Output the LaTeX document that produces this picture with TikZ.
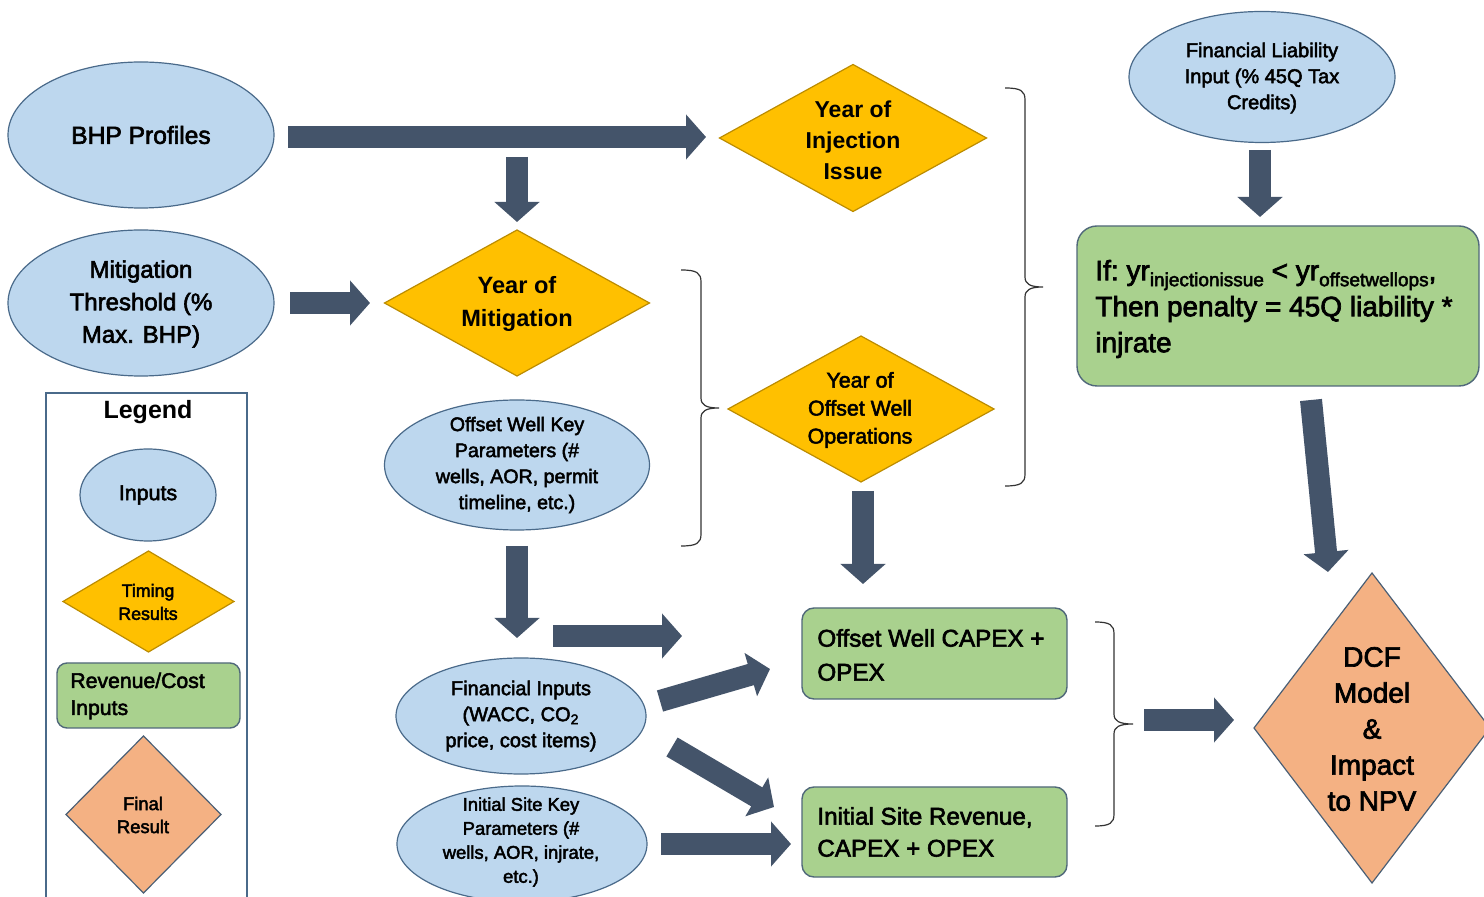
\documentclass[tikz,border=0pt]{standalone}
\usepackage{fontspec}
\setmainfont{Liberation Sans}
\newfontfamily\mf{Liberation Sans}[FakeBold=2.5]
\usetikzlibrary{shapes.geometric,arrows.meta}
\definecolor{inblue}{HTML}{BDD7EE}
\definecolor{inbd}{HTML}{4A6A8A}
\definecolor{ylw}{HTML}{FFC000}
\definecolor{ylbd}{HTML}{BC8C00}
\definecolor{grn}{HTML}{A9D18E}
\definecolor{grbd}{HTML}{50687A}
\definecolor{org}{HTML}{F4B183}
\definecolor{orbd}{HTML}{4A5F75}
\definecolor{arr}{HTML}{44546A}
\definecolor{brcol}{HTML}{333333}
\newcommand\mybrace[6]{%
  \draw[brc] (#1,#4) .. controls ({#2-4},#4) and (#2,{#4+3}) .. (#2,{#4+12})
    -- (#2,{#5-10}) .. controls (#2,{#5-3}) and ({#2+5},#5) .. (#3,#5)
    .. controls ({#2+5},#5) and (#2,{#5+3}) .. (#2,{#5+10})
    -- (#2,{#6-12}) .. controls (#2,{#6-3}) and ({#2-4},#6) .. (#1,#6);}
\begin{document}
\begin{tikzpicture}[x=0.5pt,y=-0.5pt,
  inp/.style={ellipse, draw=inbd, fill=inblue, line width=0.6pt, inner sep=0pt, outer sep=0pt},
  tim/.style={diamond, draw=ylbd, fill=ylw, line width=0.6pt, inner sep=0pt, outer sep=0pt},
  rev/.style={rectangle, rounded corners=6pt, draw=grbd, fill=grn, line width=0.7pt, inner sep=0pt, outer sep=0pt},
  fin/.style={diamond, draw=orbd, fill=org, line width=0.6pt, inner sep=0pt, outer sep=0pt},
  txt/.style={align=center, inner sep=0pt, text=black},
  ltxt/.style={align=left, inner sep=0pt, text=black},
  blk/.style={line width=11pt, draw=arr, -{Triangle[length=10pt,width=22pt]}},
  brc/.style={draw=brcol, line width=0.6pt}]
\clip (0,0) rectangle (1484,897);
\fill[white] (0,0) rectangle (1484,897);

% ---------------- shapes ----------------
\node[inp, minimum width=133pt, minimum height=73pt] (bhp) at (141,135) {};
\node[txt, font=\mf\fontsize{12.3}{15}\selectfont] (bhpt) at (141,135) {BHP Profiles};

\node[inp, minimum width=133pt, minimum height=73pt] (mth) at (141,303) {};
\node[txt, font=\mf\fontsize{12}{16.25}\selectfont] (mtht) at (141,304) {Mitigation\\Threshold (\%\\Max. BHP)};

\node[tim, minimum width=132.5pt, minimum height=73pt] (yom) at (517,303) {};
\node[txt, font=\bfseries\fontsize{11.8}{16.5}\selectfont] (yomt) at (517,304) {Year of\\Mitigation};

\node[tim, minimum width=133.5pt, minimum height=73.5pt] (yoi) at (853,138) {};
\node[txt, font=\bfseries\fontsize{11.5}{15.5}\selectfont] (yoit) at (853,140) {Year of\\Injection\\Issue};

\node[tim, minimum width=133pt, minimum height=73pt] (yoo) at (861,409) {};
\node[txt, font=\mf\fontsize{10.7}{14}\selectfont] (yoot) at (860,410) {Year of\\Offset Well\\Operations};

\node[inp, minimum width=132.5pt, minimum height=65pt] (okp) at (517,465) {};
\node[txt, font=\mf\fontsize{9.8}{13}\selectfont] (okpt) at (517,465) {Offset Well Key\\Parameters (\#\\wells, AOR, permit\\timeline, etc.)};

\node[inp, minimum width=125pt, minimum height=58pt] (fi) at (521,716) {};
\node[txt, font=\mf\fontsize{10}{13}\selectfont] (fit) at (521,716) {Financial Inputs\\(WACC, CO\textsubscript{2}\\price, cost items)};

\node[inp, minimum width=125pt, minimum height=58pt] (isk) at (522,844) {};
\node[txt, font=\mf\fontsize{9.2}{12}\selectfont] (iskt) at (521,842) {Initial Site Key\\Parameters (\#\\wells, AOR, injrate,\\etc.)};

\node[inp, minimum width=133pt, minimum height=65.5pt] (fli) at (1262,77) {};
\node[txt, font=\mf\fontsize{10}{13}\selectfont] (flit) at (1262,78) {Financial Liability\\Input (\% 45Q Tax\\Credits)};

\node[rev, rounded corners=10pt, minimum width=201pt, minimum height=80pt] (ifb) at (1278,306) {};
\node[ltxt, anchor=west, font=\mf\fontsize{14}{18}\selectfont] (ifbt) at (1095,309)
  {If:~yr\raisebox{-3pt}{\fontsize{9.5}{10}\selectfont injectionissue} {\textless} yr\raisebox{-3pt}{\fontsize{9.5}{10}\selectfont offsetwellops},\\Then penalty = 45Q liability *\\injrate};

\node[rev, minimum width=132.5pt, minimum height=45.5pt] (owc) at (934.5,653.5) {};
\node[ltxt, anchor=west, font=\mf\fontsize{12.1}{17}\selectfont] (owct) at (817,655) {Offset Well CAPEX +\\OPEX};

\node[rev, minimum width=132.5pt, minimum height=45pt] (isr) at (934.5,832) {};
\node[ltxt, anchor=west, font=\mf\fontsize{12.1}{16}\selectfont] (isrt) at (817,832) {Initial Site Revenue,\\CAPEX + OPEX};

\node[fin, minimum width=118pt, minimum height=155pt] (dcf) at (1372,728) {};
\node[txt, font=\mf\fontsize{14}{18}\selectfont] (dcft) at (1372,729) {DCF\\Model\\\&\\Impact\\to NPV};

% ---------------- legend ----------------
\node[draw=inbd, line width=0.6pt, rectangle, minimum width=100.5pt, minimum height=262pt, inner sep=0pt, outer sep=0pt] (leg) at (146.5,655) {};
\node[txt, font=\bfseries\fontsize{12.5}{15}\selectfont] (legt) at (148,412) {Legend};
\node[inp, minimum width=68pt, minimum height=46pt] (lin) at (148,495) {};
\node[txt, font=\mf\fontsize{10.7}{13}\selectfont] (lint) at (148,495) {Inputs};
\node[tim, minimum width=85.5pt, minimum height=50.5pt] (ltim) at (148.5,601.5) {};
\node[txt, font=\mf\fontsize{8.9}{11.5}\selectfont] (ltimt) at (148,602) {Timing\\Results};
\node[rev, rounded corners=5pt, minimum width=91.5pt, minimum height=32.5pt] (lrev) at (148.5,695.5) {};
\node[ltxt, anchor=west, font=\mf\fontsize{10.6}{13.5}\selectfont] (lrevt) at (70,696) {Revenue/Cost\\Inputs};
\node[fin, minimum width=77.5pt, minimum height=78.5pt] (lfin) at (143.5,814.5) {};
\node[txt, font=\mf\fontsize{9.2}{11.5}\selectfont] (lfint) at (143,815) {Final\\Result};

% ---------------- braces ----------------
\mybrace{681}{701}{719}{270}{408}{546}
\mybrace{1005}{1025}{1043}{88}{287}{486}
\mybrace{1095}{1114}{1133}{622}{724}{826}

% ---------------- arrows ----------------
\coordinate (a1s) at (288,137);  \coordinate (a1e) at (706,137);
\coordinate (a2s) at (517,157);  \coordinate (a2e) at (517,222);
\coordinate (a3s) at (290,303);  \coordinate (a3e) at (370,303);
\coordinate (a4s) at (517,546);  \coordinate (a4e) at (517,638);
\coordinate (a5s) at (553,636);  \coordinate (a5e) at (682,636);
\coordinate (a6s) at (660,701);  \coordinate (a6e) at (770,669);
\coordinate (a7s) at (672,747);  \coordinate (a7e) at (774,807);
\coordinate (a8s) at (661,844);  \coordinate (a8e) at (791,844);
\coordinate (a9s) at (863,491);  \coordinate (a9e) at (863,584);
\coordinate (a10s) at (1260,150); \coordinate (a10e) at (1260,217);
\coordinate (a11s) at (1311,400); \coordinate (a11e) at (1328,572);
\coordinate (a12s) at (1144,720); \coordinate (a12e) at (1234,720);
\draw[blk] (a1s) -- (a1e);
\draw[blk] (a2s) -- (a2e);
\draw[blk] (a3s) -- (a3e);
\draw[blk] (a4s) -- (a4e);
\draw[blk] (a5s) -- (a5e);
\draw[blk] (a6s) -- (a6e);
\draw[blk] (a7s) -- (a7e);
\draw[blk] (a8s) -- (a8e);
\draw[blk] (a9s) -- (a9e);
\draw[blk] (a10s) -- (a10e);
\draw[blk] (a11s) -- (a11e);
\draw[blk] (a12s) -- (a12e);
\end{tikzpicture}
\end{document}
